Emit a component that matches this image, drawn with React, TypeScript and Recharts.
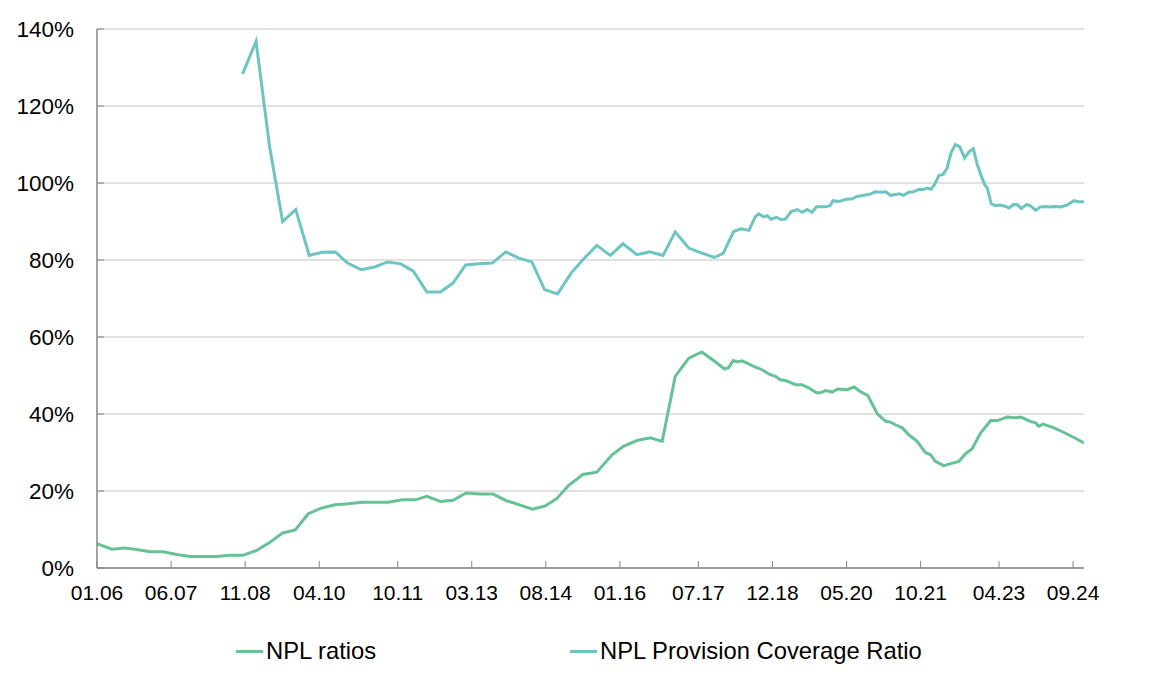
import { LineChart, Line, XAxis, YAxis, CartesianGrid, Legend } from "recharts";

const FONT = "'Liberation Sans', Arial, sans-serif";

// month index: 0 = 01.06
const tickMonths = [0, 17, 34, 51, 69, 86, 103, 120, 138, 155, 172, 189, 207, 224];
const tickLabels = [
  "01.06", "06.07", "11.08", "04.10", "10.11", "03.13", "08.14",
  "01.16", "07.17", "12.18", "05.20", "10.21", "04.23", "09.24",
];
const yTicks = [0, 20, 40, 60, 80, 100, 120, 140];

// NPL ratios (%)
const nplMonths = [
  0, 3.4, 6.4, 9.1, 12.2, 15.2, 18.3, 21.4, 24.4, 27.5, 30.5, 33.5, 36.5, 39.6, 42.6, 45.5,
  48.5, 51.6, 54.6, 57.7, 60.8, 63.8, 66.9, 70, 73, 75.7, 78.8, 81.7, 84.7, 87.8, 90.9, 93.9,
  97, 99.9, 102.8, 105.5, 108.2, 111.5, 114.7, 118.2, 120.8, 123.9, 127, 129.7, 132.7, 135.8,
  138.8, 141.5, 144, 145, 146, 147, 148, 149.2, 150.7, 152.6, 154.5, 155.7, 156.8, 158,
  159.1, 160.3, 161.8, 163.3, 165.1, 166, 167.2, 168.7, 170, 172.1, 173.8, 175.2, 176.9,
  177.9, 179.1, 181, 182.1, 183.2, 184.8, 186.3, 188.2, 190.1, 191.3, 192.4, 194.3, 195.9,
  197.8, 199.3, 200.8, 202.8, 205.1, 206.6, 208.9, 210.8, 212, 214.2, 215.4, 216.1, 217.1,
  219.6, 221.9, 224.2, 226.5,
];
const nplValues = [
  6.3, 4.9, 5.2, 4.8, 4.2, 4.2, 3.5, 3.0, 3.0, 3.0, 3.3, 3.3, 4.5, 6.6, 9.1, 9.9,
  14.1, 15.6, 16.4, 16.7, 17.1, 17.1, 17.1, 17.7, 17.7, 18.6, 17.3, 17.6, 19.5, 19.2, 19.2, 17.5,
  16.4, 15.3, 16.1, 18.0, 21.4, 24.3, 24.9, 29.4, 31.6, 33.1, 33.8, 32.9, 49.8, 54.5,
  56.1, 53.9, 51.7, 52.1, 53.9, 53.5, 53.8, 53.2, 52.4, 51.5, 50.2, 49.8, 48.9, 48.7,
  48.2, 47.6, 47.6, 46.8, 45.5, 45.5, 46.1, 45.7, 46.5, 46.3, 47.0, 45.8, 44.8,
  42.6, 40.0, 38.1, 37.9, 37.2, 36.4, 34.6, 32.9, 30.0, 29.4, 27.7, 26.6, 27.1,
  27.7, 29.7, 30.9, 35.1, 38.3, 38.3, 39.2, 39.0, 39.2, 38.1, 37.7, 36.8, 37.4,
  36.4, 35.2, 33.9, 32.5,
];

// NPL Provision Coverage Ratio (%)
const coverageMonths = [
  33.4, 36.5, 39.6, 42.6, 45.6, 48.7, 51.7, 54.7, 57.5, 60.6, 63.7, 66.7, 69.7, 72.6, 75.7,
  78.8, 81.7, 84.6, 87.7, 90.7, 93.8, 96.8, 99.8, 102.7, 105.7, 108.8, 111.7, 114.7, 117.8,
  120.7, 123.9, 126.8, 129.9, 132.7, 135.8, 138.8, 141.7, 143.7, 146.1, 147.8, 149.6, 151.1,
  151.9, 153, 153.8, 154.7, 155.9, 157, 158, 159.3, 160.7, 161.8, 163, 164.1, 165.1, 167.2,
  168.2, 168.9, 170.2, 172.1, 173.3, 174.4, 176, 177.1, 178.7, 179.8, 181, 182.1, 183.2,
  184.2, 185.1, 186.3, 187.4, 188.6, 189.6, 190.5, 191.4, 192.2, 193.2, 194.2, 195.1, 196,
  197, 198, 199.1, 200.1, 201.1, 202, 202.8, 203.7, 204.3, 205.2, 206.2, 207.3, 208.5, 209.3,
  210.3, 211.2, 212.1, 213.3, 214.2, 215.4, 216.5, 217.7, 218.7, 219.6, 221.2, 222.7, 224.2,
  225.4, 226.5,
];
const coverageValues = [
  128.3, 136.8, 109.5, 90.0, 93.1, 81.2, 82.0, 82.1, 79.2, 77.5, 78.2, 79.5, 79.0, 77.1, 71.7,
  71.7, 74.0, 78.7, 79.0, 79.2, 82.1, 80.5, 79.5, 72.3, 71.2, 76.6, 80.3, 83.8, 81.2,
  84.2, 81.4, 82.1, 81.2, 87.3, 83.1, 81.8, 80.7, 81.7, 87.4, 88.1, 87.7, 91.3,
  92.0, 91.2, 91.5, 90.6, 91.1, 90.5, 90.6, 92.6, 93.1, 92.4, 93.1, 92.4, 93.8, 93.8,
  94.1, 95.4, 95.2, 95.8, 95.9, 96.5, 96.8, 97.0, 97.7, 97.6, 97.7, 96.8, 97.0,
  97.2, 96.8, 97.6, 97.7, 98.4, 98.3, 98.7, 98.4, 99.6, 101.9, 102.3, 103.9, 107.9,
  110.0, 109.4, 106.5, 108.1, 108.9, 104.8, 102.2, 99.6, 98.7, 94.6, 94.1, 94.3, 93.9, 93.5,
  94.4, 94.4, 93.4, 94.4, 94.1, 92.9, 93.8, 93.9, 93.8, 93.9, 93.8, 94.3, 95.4,
  95.1, 95.1,
];

const nplData = nplMonths.map((m, i) => ({ m, value: nplValues[i] }));
const coverageData = coverageMonths.map((m, i) => ({ m, value: coverageValues[i] }));

const GREEN = "#66C295";
const TEAL = "#6CC5C3";
const AXIS = "#868686";

const XTick = (props: any) => {
  const { x, y, payload } = props;
  const idx = tickMonths.indexOf(payload.value);
  return (
    <g>
      <line x1={x} x2={x} y1={y - 7} y2={y} stroke={AXIS} strokeWidth={1} />
      <text x={x} y={y + 32} textAnchor="middle" fontSize={21} fontFamily={FONT} fill="#000">
        {idx >= 0 ? tickLabels[idx] : ""}
      </text>
    </g>
  );
};

const YTick = (props: any) => {
  const { x, y, payload } = props;
  return (
    <g>
      <line x1={x} x2={x + 7} y1={y} y2={y} stroke={AXIS} strokeWidth={1} />
      <text x={x - 23} y={y + 8} textAnchor="end" fontSize={22.5} fontFamily={FONT} fill="#000">
        {`${payload.value}%`}
      </text>
    </g>
  );
};

const legendItems = [
  { name: "NPL ratios", color: GREEN, left: 236 },
  { name: "NPL Provision Coverage Ratio", color: TEAL, left: 570 },
];

const renderLegend = () => (
  <div style={{ position: "relative", width: 1152, height: 30 }}>
    {legendItems.map((it) => (
      <div
        key={it.name}
        style={{
          position: "absolute",
          left: it.left,
          top: 0,
          height: 30,
          display: "flex",
          alignItems: "center",
          fontFamily: FONT,
          fontSize: 23.8,
          color: "#000",
          whiteSpace: "nowrap",
        }}
      >
        <span style={{ display: "inline-block", width: 27, height: 3, background: it.color, marginRight: 3 }} />
        {it.name}
      </div>
    ))}
  </div>
);

export default function App() {
  return (
    <div style={{ position: "absolute", left: 0, top: 0, width: 1152, height: 696, background: "#fff" }}>
      <LineChart
        width={1152}
        height={696}
        margin={{ top: 29, right: 68, left: 37, bottom: 0 }}
      >
        <CartesianGrid horizontal vertical={false} stroke="#c4c4c4" strokeWidth={1} />
        <XAxis
          type="number"
          dataKey="m"
          domain={[0, 226.5]}
          ticks={tickMonths}
          interval={0}
          allowDataOverflow
          height={98}
          axisLine={{ stroke: AXIS, strokeWidth: 1.5 }}
          tickLine={false}
          tickSize={0}
          tickMargin={0}
          tick={<XTick />}
        />
        <YAxis
          type="number"
          domain={[0, 140]}
          ticks={yTicks}
          interval={0}
          width={60}
          axisLine={{ stroke: AXIS, strokeWidth: 1.5 }}
          tickLine={false}
          tickSize={0}
          tickMargin={0}
          tick={<YTick />}
        />
        <Legend
          content={renderLegend}
          wrapperStyle={{ position: "absolute", left: 0, top: 636, width: 1152, height: 30 }}
        />
        <Line
          data={nplData}
          dataKey="value"
          name="NPL ratios"
          type="linear"
          stroke={GREEN}
          strokeWidth={3}
          dot={false}
          activeDot={false}
          isAnimationActive={false}
        />
        <Line
          data={coverageData}
          dataKey="value"
          name="NPL Provision Coverage Ratio"
          type="linear"
          stroke={TEAL}
          strokeWidth={3}
          dot={false}
          activeDot={false}
          isAnimationActive={false}
        />
      </LineChart>
    </div>
  );
}
